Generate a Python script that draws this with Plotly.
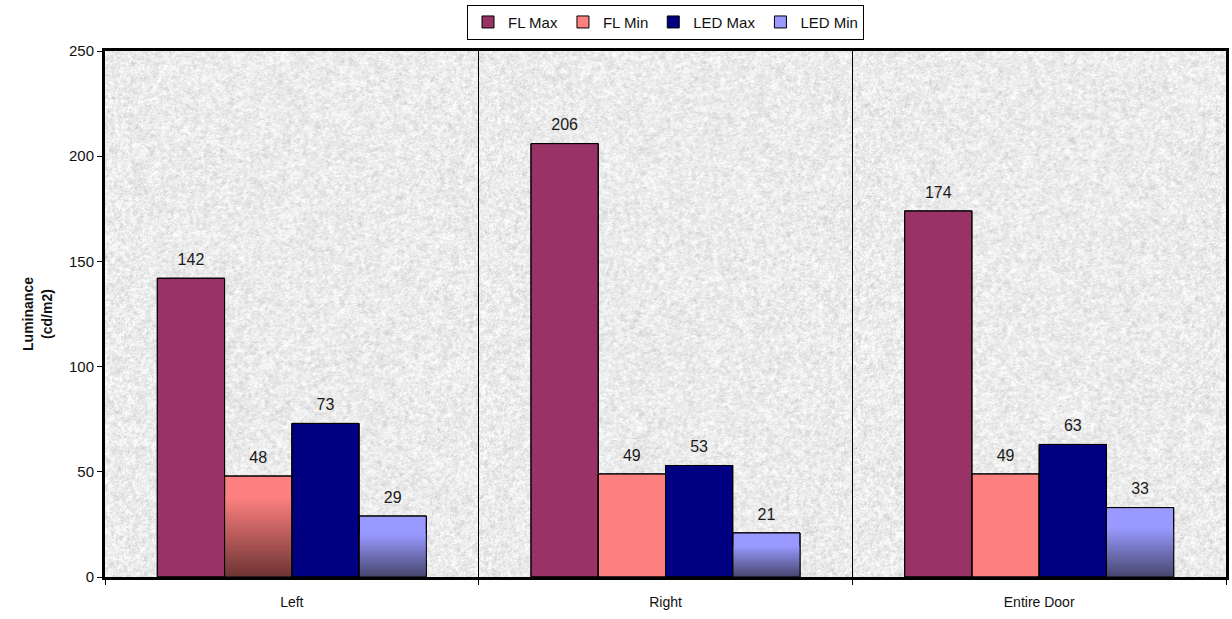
import base64
import struct
import zlib

import numpy as np
import plotly.graph_objects as go

# ---- data ----
categories = ["Left", "Right", "Entire Door"]
fl_max = [142, 206, 174]
fl_min = [48, 49, 49]
led_max = [73, 53, 63]
led_min = [29, 21, 33]
y_ticks = [0, 50, 100, 150, 200, 250]

series_names = ["FL Max", "FL Min", "LED Max", "LED Min"]
series_values = [fl_max, fl_min, led_max, led_min]
series_colors = ["#993366", "#FF8080", "#000080", "#9999FF"]

# darkening fill toward the bar base: (series index, categories shaded, base colour, solid top share)
shaded = [
    (1, [0], "#6E3434", 0.2),
    (3, [0, 1, 2], "#46466E", 0.3),
]


def granite_png(w, h, seed=3):
    """Light speckled stone texture for the plot area, encoded as a greyscale PNG."""
    rng = np.random.default_rng(seed)
    fine = rng.normal(size=(h, w))
    fine = (fine + 0.5 * np.roll(fine, 1, 0) + 0.5 * np.roll(fine, 1, 1)) / 1.5
    coarse = rng.normal(size=(h, w))
    for _ in range(4):
        coarse = (coarse + np.roll(coarse, 1, 0) + np.roll(coarse, -1, 0)
                  + np.roll(coarse, 1, 1) + np.roll(coarse, -1, 1)) / 5.0
    coarse /= coarse.std()
    img = 236 + 9 * fine + 5 * coarse
    img = np.clip(img, 195, 252).astype(np.uint8)
    raw = b"".join(b"\x00" + row.tobytes() for row in img)

    def chunk(tag, data):
        return (struct.pack(">I", len(data)) + tag + data
                + struct.pack(">I", zlib.crc32(tag + data) & 0xFFFFFFFF))

    png = (b"\x89PNG\r\n\x1a\n"
           + chunk(b"IHDR", struct.pack(">IIBBBBB", w, h, 8, 0, 0, 0, 0))
           + chunk(b"IDAT", zlib.compress(raw, 9))
           + chunk(b"IEND", b""))
    return "data:image/png;base64," + base64.b64encode(png).decode()


def hex_rgb(c):
    c = c.lstrip("#")
    return [int(c[i:i + 2], 16) for i in (0, 2, 4)]


def mix(c1, c2, t):
    a, b = hex_rgb(c1), hex_rgb(c2)
    return "rgb(%d,%d,%d)" % tuple(round(a[i] + (b[i] - a[i]) * t) for i in range(3))


fig = go.Figure()

# main bars (carry the legend)
for name, vals, col in zip(series_names, series_values, series_colors):
    fig.add_trace(go.Bar(
        x=categories, y=vals, name=name, offsetgroup=name,
        marker=dict(color=col, line=dict(color="#000000", width=1)),
        hoverinfo="x+y+name",
    ))

# gradient slices over the lower part of the shaded bars (drawn bottom-up, overlapping)
n_steps = 30
for s_idx, cats, dark, solid in shaded:
    name = series_names[s_idx]
    vals = series_values[s_idx]
    top_col = series_colors[s_idx]
    xs = [categories[i] for i in cats]
    spans = [vals[i] * (1 - solid) for i in cats]
    for k in range(n_steps - 1, -1, -1):
        fig.add_trace(go.Bar(
            x=xs,
            y=[g * (k + 1) / n_steps for g in spans],
            offsetgroup=name,
            marker=dict(color=mix(dark, top_col, (k + 0.5) / n_steps), line=dict(width=0)),
            showlegend=False, hoverinfo="skip",
        ))

# outlines redrawn on top of the slices
for name, vals in zip(series_names, series_values):
    fig.add_trace(go.Bar(
        x=categories, y=vals, offsetgroup=name,
        marker=dict(color="rgba(0,0,0,0)", line=dict(color="#000000", width=1)),
        showlegend=False, hoverinfo="skip",
    ))

# value labels above each bar
for name, vals in zip(series_names, series_values):
    fig.add_trace(go.Scatter(
        x=categories, y=vals, offsetgroup=name,
        mode="markers+text", text=[str(v) for v in vals],
        textposition="top center",
        marker=dict(size=13, color="rgba(0,0,0,0)"),
        textfont=dict(family="Liberation Sans, Arial, sans-serif", size=16, color="#1a1a1a"),
        showlegend=False, hoverinfo="skip", cliponaxis=False,
    ))

fig.update_layout(
    width=1232, height=619,
    margin=dict(l=105, r=3, t=51, b=42),
    paper_bgcolor="#FFFFFF",
    plot_bgcolor="rgba(0,0,0,0)",
    barmode="group",
    scattermode="group",
    bargap=0.28,
    bargroupgap=0,
    scattergap=0.28,
    font=dict(family="Liberation Sans, Arial, sans-serif", size=14, color="#111111"),
    showlegend=True,
    legend=dict(
        orientation="h", x=0.5, xanchor="center", y=1.088, yanchor="top",
        bgcolor="#FFFFFF", bordercolor="#000000", borderwidth=1,
        font=dict(size=15, color="#111111"),
        itemwidth=30, tracegroupgap=0,
    ),
    images=[dict(
        source=granite_png(1124, 526), xref="paper", yref="paper",
        x=0, y=1, sizex=1, sizey=1, sizing="stretch", layer="below",
    )],
    xaxis=dict(
        type="category",
        showline=True, linecolor="#000000", linewidth=3, mirror=True,
        tickson="boundaries", ticks="outside", ticklen=5, tickcolor="#000000",
        showgrid=True, gridcolor="#000000", gridwidth=1,
        tickfont=dict(size=14, color="#111111"),
        ticklabelstandoff=10,
        zeroline=False,
    ),
    yaxis=dict(
        range=[0, 250], tickvals=y_ticks,
        showline=True, linecolor="#000000", linewidth=3, mirror=True,
        ticks="outside", ticklen=5, tickcolor="#000000",
        showgrid=False, zeroline=False,
        tickfont=dict(size=15, color="#111111"),
        title=dict(text="<b>Luminance<br>(cd/m2)</b>", font=dict(size=14, color="#111111"), standoff=14),
    ),
)

fig.write_html("out.html")
